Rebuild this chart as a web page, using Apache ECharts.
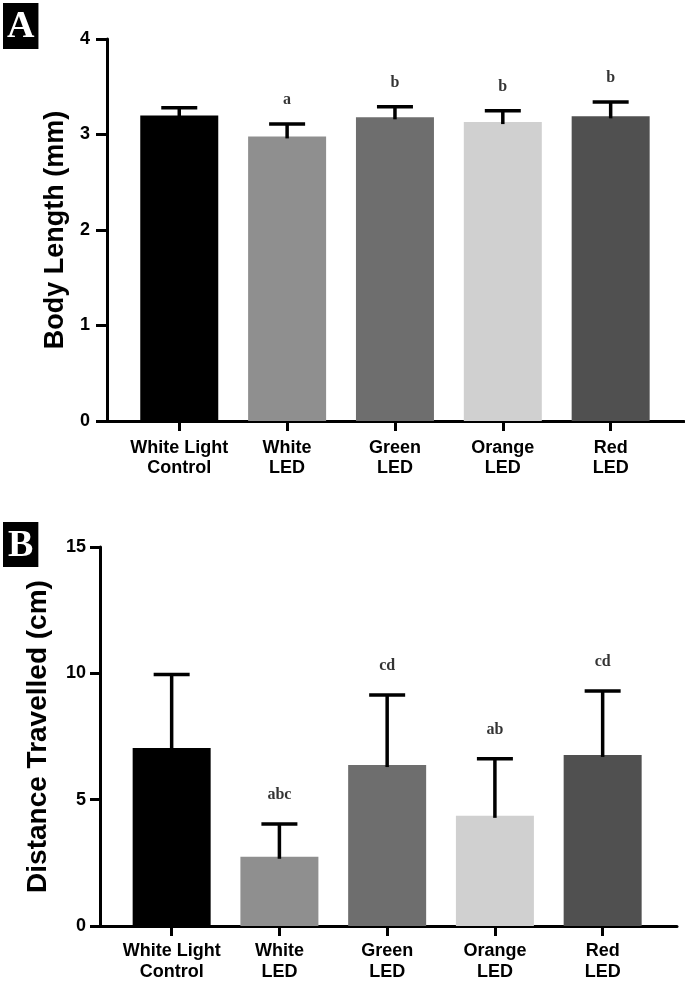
<!DOCTYPE html>
<html>
<head>
<meta charset="utf-8">
<script src="https://cdn.jsdelivr.net/npm/echarts@6/dist/echarts.min.js"></script>
<style>
html,body{margin:0;padding:0;background:#fff;}
#c{width:685px;height:983px;}
</style>
</head>
<body>
<div id="c"></div>
<script>
// ---- data ----
const categories = ['White Light\nControl', 'White\nLED', 'Green\nLED', 'Orange\nLED', 'Red\nLED'];
const barColors = ['#000000', '#8f8f8f', '#6e6e6e', '#d0d0d0', '#505050'];

const lengthMean = [3.20, 2.98, 3.18, 3.13, 3.19];
const lengthErrTop = [3.28, 3.11, 3.29, 3.25, 3.34];
const lengthLetters = ['', 'a', 'b', 'b', 'b'];
const lengthTicks = [0, 1, 2, 3, 4];

const distMean = [7.04, 2.74, 6.37, 4.36, 6.77];
const distErrTop = [9.95, 4.04, 9.14, 6.62, 9.30];
const distLetters = ['', 'abc', 'cd', 'ab', 'cd'];
const distTicks = [0, 5, 10, 15];

// ---- helpers ----
const sans = "'Liberation Sans', Arial, sans-serif";
const serif = "'Liberation Serif', 'DejaVu Serif', serif";

function barData(means) {
  return means.map((v, i) => ({ value: [i, v], itemStyle: { color: barColors[i] } }));
}
function errData(means, tops) {
  return means.map((v, i) => [i, v, tops[i]]);
}
function letterData(tops, letters) {
  return tops.map((t, i) => ({ value: [i, t], label: { formatter: letters[i] || ' ' } }));
}
function errRender(params, api) {
  const x = api.value(0);
  const lo = api.coord([x, api.value(1)]);
  const hi = api.coord([x, api.value(2)]);
  const half = 18;
  const style = { stroke: '#000', lineWidth: 3.5 };
  return {
    type: 'group',
    children: [
      { type: 'line', shape: { x1: hi[0], y1: lo[1] + 2, x2: hi[0], y2: hi[1] }, style: Object.assign({}, style) },
      { type: 'line', shape: { x1: hi[0] - half, y1: hi[1], x2: hi[0] + half, y2: hi[1] }, style: Object.assign({}, style) }
    ]
  };
}
function xAxisDef(gridIndex, min, max, margin, lineHeight) {
  return {
    type: 'value', gridIndex, min, max,
    axisLine: { show: true, onZero: false, lineStyle: { color: '#000', width: 3 } },
    axisTick: { show: true, customValues: [0, 1, 2, 3, 4], length: 10, lineStyle: { color: '#000', width: 3 } },
    axisLabel: {
      customValues: [0, 1, 2, 3, 4],
      formatter: v => categories[Math.round(v)],
      color: '#000', fontFamily: sans, fontWeight: 'bold', fontSize: 18, lineHeight, margin
    },
    splitLine: { show: false }
  };
}
function yAxisDef(gridIndex, ticks, name, nameGap, nameSize, labelMargin, tickLen) {
  return {
    type: 'value', gridIndex,
    min: ticks[0], max: ticks[ticks.length - 1], interval: ticks[1] - ticks[0],
    name, nameLocation: 'middle', nameGap,
    nameTextStyle: { color: '#000', fontFamily: sans, fontWeight: 'bold', fontSize: nameSize },
    axisLine: { show: true, onZero: false, lineStyle: { color: '#000', width: 3 } },
    axisTick: { show: true, length: tickLen, lineStyle: { color: '#000', width: 3 } },
    axisLabel: { color: '#000', fontFamily: sans, fontWeight: 'bold', fontSize: 18, margin: labelMargin },
    splitLine: { show: false }
  };
}

const tagStyle = { color: '#fff', fontFamily: serif, fontWeight: 'bold', fontSize: 38, lineHeight: 41 };
const chart = echarts.init(document.getElementById('c'), null, { renderer: 'canvas' });
chart.setOption({
  backgroundColor: '#fff',
  animation: false,
  title: [
    { text: 'A', left: 3, top: 3, backgroundColor: '#000', padding: [4, 4, 1, 4], textStyle: tagStyle },
    { text: 'B', left: 3, top: 522, backgroundColor: '#000', padding: [4, 5, 0, 5], textStyle: tagStyle }
  ],
  grid: [
    { left: 107, right: 1, top: 39, bottom: 562 },
    { left: 100, right: 8, top: 547, bottom: 57 }
  ],
  xAxis: [xAxisDef(0, -0.67, 4.68, 17, 20), xAxisDef(1, -0.665, 4.69, 15, 21)],
  yAxis: [
    yAxisDef(0, lengthTicks, 'Body Length (mm)', 37, 27, 17, 11),
    yAxisDef(1, distTicks, 'Distance Travelled (cm)', 48, 28, 14, 10)
  ],
  series: [
    { type: 'bar', xAxisIndex: 0, yAxisIndex: 0, barWidth: 78, data: barData(lengthMean) },
    { type: 'custom', xAxisIndex: 0, yAxisIndex: 0, renderItem: errRender, data: errData(lengthMean, lengthErrTop), z: 3 },
    { type: 'scatter', xAxisIndex: 0, yAxisIndex: 0, symbolSize: 0, data: letterData(lengthErrTop, lengthLetters),
      label: { show: true, position: 'top', distance: 16, color: '#000', fontFamily: serif, fontWeight: 'bold', fontSize: 16 } },
    { type: 'bar', xAxisIndex: 1, yAxisIndex: 1, barWidth: 78, data: barData(distMean) },
    { type: 'custom', xAxisIndex: 1, yAxisIndex: 1, renderItem: errRender, data: errData(distMean, distErrTop), z: 3 },
    { type: 'scatter', xAxisIndex: 1, yAxisIndex: 1, symbolSize: 0, data: letterData(distErrTop, distLetters),
      label: { show: true, position: 'top', distance: 21, color: '#000', fontFamily: serif, fontWeight: 'bold', fontSize: 16 } }
  ]
});
</script>
</body>
</html>
